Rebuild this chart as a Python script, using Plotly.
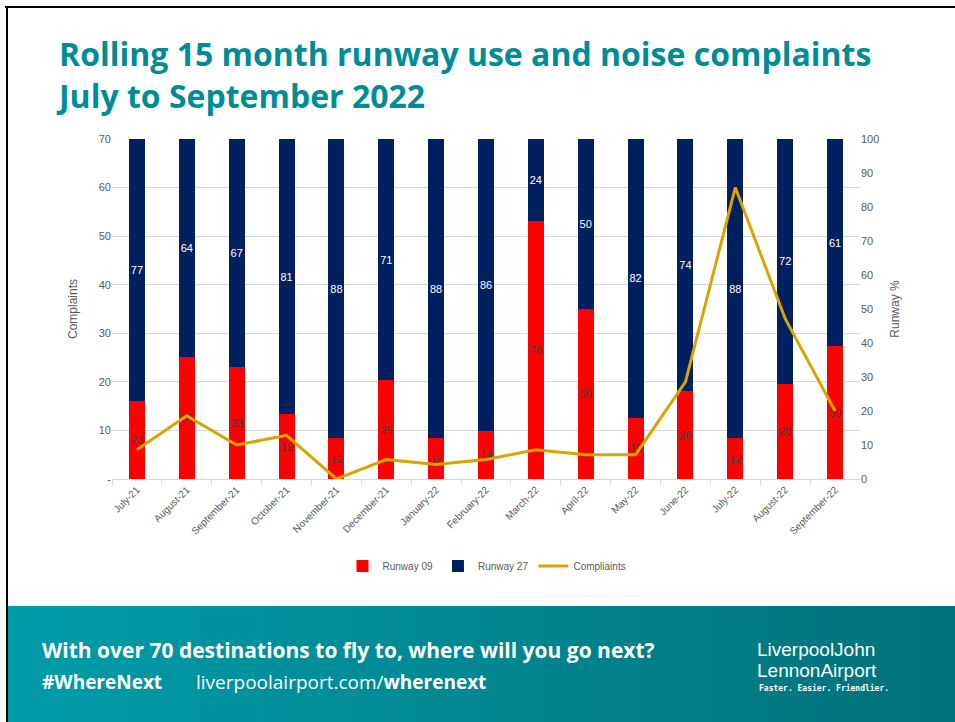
import plotly.graph_objects as go

months = ['July-21', 'August-21', 'September-21', 'October-21', 'November-21',
          'December-21', 'January-22', 'February-22', 'March-22', 'April-22',
          'May-22', 'June-22', 'July-22', 'August-22', 'September-22']
runway_09 = [23, 36, 33, 19, 12, 29, 12, 14, 76, 50, 18, 26, 12, 28, 39]
runway_27 = [77, 64, 67, 81, 88, 71, 88, 86, 24, 50, 82, 74, 88, 72, 61]
complaints = [6, 13, 7, 9, 0, 4, 3, 4, 6, 5, 5, 20, 60, 33, 14]

left_ticks = [0, 10, 20, 30, 40, 50, 60, 70]
left_labels = ['-', '10', '20', '30', '40', '50', '60', '70']
right_ticks = list(range(0, 101, 10))
LEFT_MAX, RIGHT_MAX = 70, 100

W, H = 955, 722
TEAL = '#008C95'
GREY = '#595959'
FONT = 'Liberation Sans'


def px_x(x):
    return x / W


def px_y(y):
    return (H - y) / H


fig = go.Figure()
# bars on the base (runway %) axis, line on the overlaid complaints axis so it sits on top
fig.add_bar(x=months, y=runway_09, name='Runway 09', yaxis='y',
            marker=dict(color='#FF0000', line=dict(width=0)),
            text=runway_09, textposition='inside', insidetextanchor='middle',
            textangle=0, constraintext='none',
            textfont=dict(color='#404040', size=11, family=FONT))
fig.add_bar(x=months, y=runway_27, name='Runway 27', yaxis='y',
            marker=dict(color='#002060', line=dict(width=0)),
            text=runway_27, textposition='inside', insidetextanchor='middle',
            textangle=0, constraintext='none',
            textfont=dict(color='white', size=11, family=FONT))
fig.add_scatter(x=months, y=complaints, name='Compliaints', mode='lines', yaxis='y2',
                line=dict(color='#D9A400', width=3))

# banner with a fake left-to-right gradient
shapes = []
steps = 60
x_start, x_end = 7, 955
seg = (x_end - x_start) / steps
for i in range(steps):
    t = i / (steps - 1)
    g = int(0x9C + (0x72 - 0x9C) * t)
    b = int(0xA8 + (0x7A - 0xA8) * t)
    shapes.append(dict(type='rect', xref='paper', yref='paper', layer='below',
                       x0=px_x(x_start + i * seg), x1=min(1, px_x(x_start + (i + 1) * seg + 1)),
                       y0=0, y1=px_y(606),
                       fillcolor=f'rgb(0,{g},{b})', line=dict(width=0)))
# slide frame
shapes.append(dict(type='line', xref='paper', yref='paper', x0=px_x(5), x1=1,
                   y0=px_y(7), y1=px_y(7), line=dict(color='black', width=2)))
shapes.append(dict(type='line', xref='paper', yref='paper', x0=px_x(7), x1=px_x(7),
                   y0=0, y1=px_y(7), line=dict(color='black', width=2)))

annotations = [
    dict(text='<b>Rolling 15 month runway use and noise complaints<br>July to September 2022</b>',
         x=px_x(54), y=px_y(30), xanchor='left', yanchor='top', align='left',
         font=dict(family='Open Sans', size=32, color=TEAL)),
    dict(text='<b>With over 70 destinations to fly to, where will you go next?</b>',
         x=px_x(40), y=px_y(650), xanchor='left', yanchor='middle',
         font=dict(family='Open Sans', size=21, color='white')),
    dict(text='<b>#WhereNext</b>', x=px_x(40), y=px_y(682),
         xanchor='left', yanchor='middle',
         font=dict(family='Open Sans', size=19, color='white')),
    dict(text='liverpoolairport.com/<b>wherenext</b>', x=px_x(194), y=px_y(682),
         xanchor='left', yanchor='middle',
         font=dict(family='Open Sans', size=19, color='white')),
    dict(text='LiverpoolJohn', x=px_x(755), y=px_y(649),
         xanchor='left', yanchor='middle',
         font=dict(family=FONT, size=19, color='white')),
    dict(text='LennonAirport', x=px_x(755), y=px_y(670),
         xanchor='left', yanchor='middle',
         font=dict(family=FONT, size=19, color='white')),
    dict(text='<b>Faster. Easier. Friendlier.</b>', x=px_x(757), y=px_y(688),
         xanchor='left', yanchor='middle',
         font=dict(family='DejaVu Sans Mono', size=8, color='white')),
]
for a in annotations:
    a.update(xref='paper', yref='paper', showarrow=False)

# complaints gridlines expressed on the runway % scale so they sit behind the bars
grid_vals = [v * RIGHT_MAX / LEFT_MAX for v in left_ticks]

fig.update_layout(
    width=W, height=H,
    margin=dict(l=0, r=0, t=0, b=0),
    paper_bgcolor='white', plot_bgcolor='white',
    barmode='stack', bargap=0.68,
    font=dict(family=FONT, color=GREY, size=11),
    shapes=shapes, annotations=annotations,
    showlegend=True,
    legend=dict(orientation='h', x=px_x(487), xanchor='center', y=px_y(566),
                yanchor='middle', traceorder='normal', font=dict(size=10, color=GREY),
                bgcolor='rgba(0,0,0,0)'),
    xaxis=dict(type='category', domain=[px_x(112), px_x(860)], automargin=False,
               tickangle=-45, tickfont=dict(size=10, color=GREY),
               showline=True, linecolor='#D9D9D9', ticks='outside', tickson='boundaries',
               tickcolor='#D9D9D9', ticklen=5, showgrid=False),
    yaxis=dict(range=[0, RIGHT_MAX], domain=[px_y(479), px_y(139)], side='right',
               automargin=False, tickvals=right_ticks, showgrid=False, zeroline=False,
               minor=dict(tickvals=grid_vals, showgrid=True, gridcolor='#D9D9D9', ticks=''),
               tickfont=dict(size=11, color=GREY),
               title=dict(text='Runway %', font=dict(size=12, color=GREY), standoff=12)),
    yaxis2=dict(range=[0, LEFT_MAX], overlaying='y', side='left', automargin=False,
                tickvals=left_ticks, ticktext=left_labels,
                showgrid=False, zeroline=False, tickfont=dict(size=11, color=GREY),
                title=dict(text='Complaints', font=dict(size=12, color=GREY), standoff=18)),
)

# drop the default page margin so the figure starts at the window corner
fig.write_html('out.html', config={'displayModeBar': False},
               post_script="document.body.style.margin='0';")
